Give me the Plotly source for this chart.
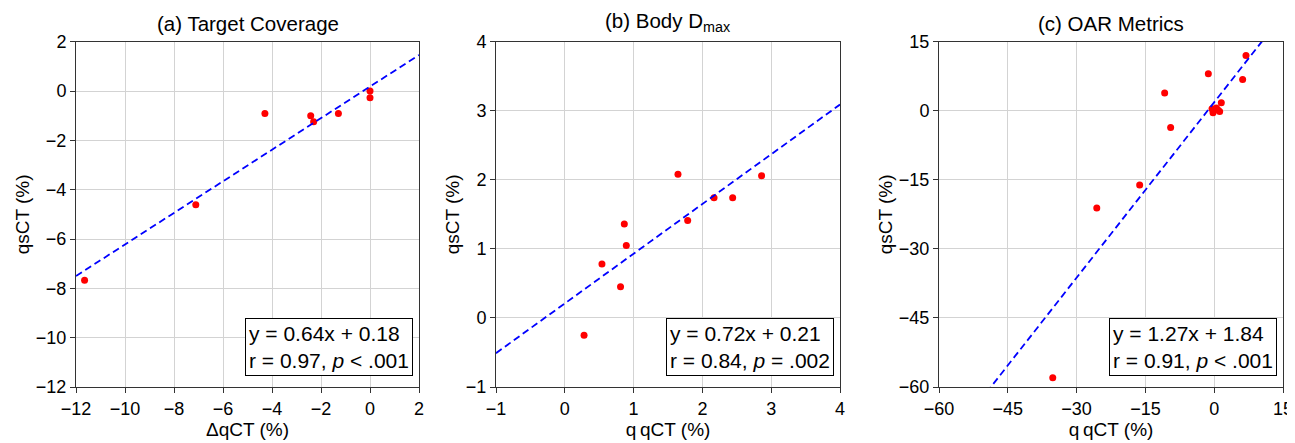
import plotly.graph_objects as go

# (a) Target Coverage
a_x = [-11.65, -7.11, -4.29, -2.42, -2.30, -1.29, 0.0, 0.0]
a_y = [-7.67, -4.61, -0.91, -1.00, -1.25, -0.91, 0.0, -0.27]
# (b) Body Dmax
b_x = [0.28, 0.54, 0.81, 0.865, 0.894, 1.645, 1.786, 2.169, 2.44, 2.86]
b_y = [-0.25, 0.78, 0.45, 1.36, 1.05, 2.08, 1.41, 1.74, 1.74, 2.06]
# (c) OAR Metrics
c_x = [-35.2, -25.6, -16.25, -10.8, -9.5, -1.28, -0.48, -0.26, 0.46, 0.83, 1.19, 1.55, 6.2, 6.93]
c_y = [-58.0, -21.1, -16.1, 3.84, -3.62, 8.04, 0.44, -0.43, 0.58, 0.15, -0.14, 1.74, 6.81, 12.0]

slopes = [0.64, 0.72, 1.27]
intercepts = [0.18, 0.21, 1.84]
stats = ['r = 0.97, <i>p</i> < .001', 'r = 0.84, <i>p</i> = .002', 'r = 0.91, <i>p</i> < .001']
titles = ['(a) Target Coverage', '(b) Body D<sub>max</sub>', '(c) OAR Metrics']
xtitles = ['\u0394qCT (%)', 'q\u2009qCT (%)', 'q\u2009qCT (%)']
xranges = [[-12, 2], [-1, 4], [-60, 15]]
yranges = [[-12, 2], [-1, 4], [-60, 15]]
dticks = [2, 1, 15]

# page body has an 8px margin, so the figure is 8px smaller and placed at (8, 8)
W, H = 1287, 435
xdomains = [[68/W, 411/W], [488/W, 832/W], [931/W, 1275/W]]
ydomain = [1 - 379/H, 1 - 33.7/H]

fig = go.Figure()
data = [(a_x, a_y), (b_x, b_y), (c_x, c_y)]

font = 'Liberation Sans, Arial, sans-serif'
anns = []
for i, (xs, ys) in enumerate(data):
    sfx = '' if i == 0 else str(i + 1)
    fig.add_trace(go.Scatter(x=xs, y=ys, mode='markers',
                             marker=dict(color='red', size=7),
                             xaxis='x' + sfx, yaxis='y' + sfx, showlegend=False))
    lx = xranges[i]
    ly = [slopes[i] * v + intercepts[i] for v in lx]
    fig.add_trace(go.Scatter(x=lx, y=ly, mode='lines',
                             line=dict(color='blue', width=1.8, dash='7px,4px'),
                             xaxis='x' + sfx, yaxis='y' + sfx, showlegend=False))
    axstyle = dict(showline=True, linecolor='#333', linewidth=1, mirror=True,
                   showgrid=True, gridcolor='#d3d3d3', gridwidth=1, zeroline=False,
                   ticks='outside', ticklen=5, tickcolor='#333', automargin=False,
                   tickfont=dict(size=18, color='black', family=font))
    fig.layout['xaxis' + sfx] = dict(domain=xdomains[i], range=xranges[i], dtick=dticks[i],
                                     anchor='y' + sfx,
                                     title=dict(text=xtitles[i], font=dict(size=19, color='black'), standoff=4),
                                     **axstyle)
    fig.layout['yaxis' + sfx] = dict(domain=ydomain, range=yranges[i], dtick=dticks[i],
                                     anchor='x' + sfx,
                                     title=dict(text='qsCT (%)', font=dict(size=19, color='black'), standoff=1),
                                     **axstyle)
    # subplot title
    anns.append(dict(text=titles[i], x=sum(xdomains[i]) / 2, y=ydomain[1], xref='paper', yref='paper',
                     xanchor='center', yanchor='bottom', yshift=5, showarrow=False,
                     font=dict(size=20.5, color='black', family=font)))
    # fit / stats box
    sign = '+' if intercepts[i] >= 0 else '-'
    txt = 'y = %.2fx %s %.2f<br>%s' % (slopes[i], sign, abs(intercepts[i]), stats[i])
    anns.append(dict(text=txt, x=xdomains[i][1], y=ydomain[0], xref='paper', yref='paper',
                     xanchor='right', yanchor='bottom', xshift=-6, yshift=11, showarrow=False,
                     align='left', bordercolor='black', borderwidth=1, borderpad=3,
                     bgcolor='white', font=dict(size=21, color='black', family=font)))

fig.update_layout(width=W, height=H, margin=dict(l=0, r=0, t=0, b=0, autoexpand=False),
                  plot_bgcolor='white', paper_bgcolor='white',
                  font=dict(family=font, color='black'), annotations=anns)

fig.write_html('out.html')
